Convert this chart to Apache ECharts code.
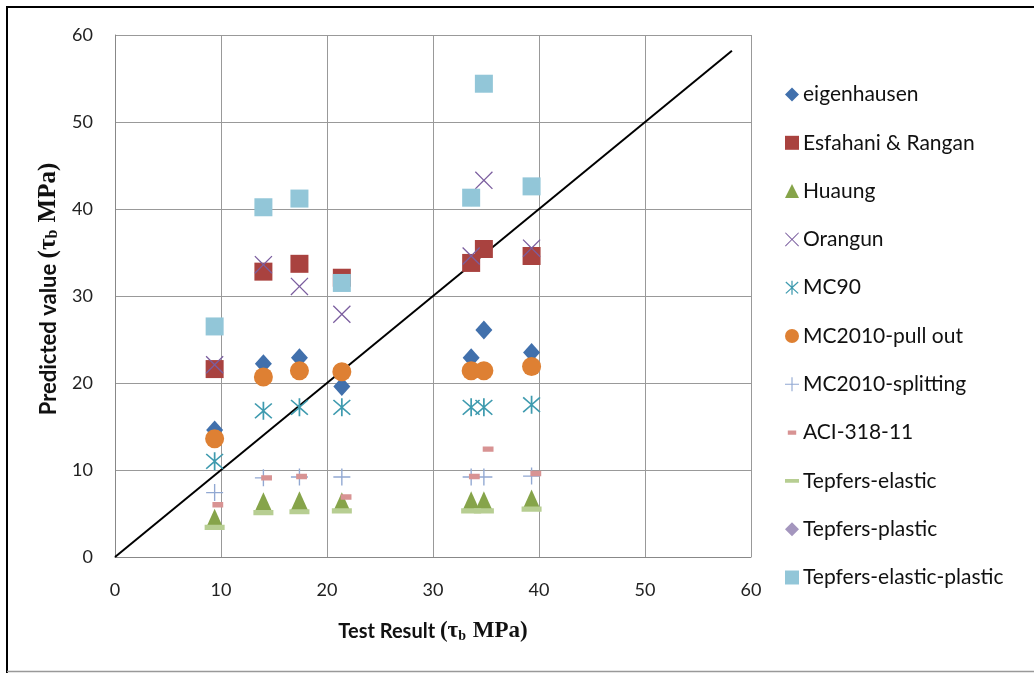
<!DOCTYPE html>
<html>
<head>
<meta charset="utf-8">
<script src="https://cdn.jsdelivr.net/npm/echarts@6/dist/echarts.min.js"></script>
<style>
  html, body { margin: 0; padding: 0; background: #fff; }
  #chart { width: 1034px; height: 673px; }
</style>
</head>
<body>
<div id="chart"></div>
<script>
// test results (x) shared by most models
const testResult = [9.4, 14.0, 17.4, 21.4, 33.6, 34.8, 39.3];
const aciX = [9.7, 14.3, 17.6, 21.8, 33.9, 35.2, 39.7];

const eigenhausen = [14.6, 22.2, 22.9, 19.6, 22.9, 26.1, 23.5];
const esfahani = [21.6, 32.8, 33.7, 32.1, 33.8, 35.4, 34.6];
const huaung = [4.4, 6.3, 6.4, 6.3, 6.4, 6.4, 6.6];
const orangun = [22.1, 33.6, 31.1, 27.9, 34.6, 43.3, 35.5];
const mc90 = [11.0, 16.8, 17.2, 17.2, 17.2, 17.2, 17.5];
const mc2010Pull = [13.6, 20.7, 21.4, 21.3, 21.4, 21.4, 21.9];
const mc2010Split = [7.4, 9.1, 9.2, 9.2, 9.2, 9.2, 9.3];
const aci = [6.0, 9.1, 9.25, 6.9, 9.25, 12.4, 9.6];
const tepfersElastic = [3.4, 5.1, 5.2, 5.3, 5.3, 5.3, 5.5];
const tepfersPlastic = [26.5, 40.2, 41.2, 31.5, 41.3, 54.4, 42.6];
const tepfersElPl = [26.5, 40.2, 41.2, 31.5, 41.3, 54.4, 42.6];

const equalityLine = [[0, 0], [58.2, 58.2]];

// marker shapes (tiny corner triangles keep the bounding box square)
const corners = 'M0,0l0.01,0l0,0.01z M10,10l-0.01,0l0,-0.01z ';
const xMark = 'path://M0,0.5L0.5,0L5,4.5L9.5,0L10,0.5L5.5,5L10,9.5L9.5,10L5,5.5L0.5,10L0,9.5L4.5,5Z';
const plusMark = 'path://M4.6,0H5.4V4.6H10V5.4H5.4V10H4.6V5.4H0V4.6H4.6Z';
const starMark = 'path://M4.55,0H5.45V10H4.55Z M0.3,1.2L0.9,0.6L5,4.4L9.1,0.6L9.7,1.2L5.6,5L9.7,8.8L9.1,9.4L5,5.6L0.9,9.4L0.3,8.8L4.4,5Z';
const shortDash = 'path://' + corners + 'M2,3.5H8V6.5H2Z';
const longDash = 'path://' + corners + 'M0,3.7H10V6.3H0Z';

const chart = echarts.init(document.getElementById('chart'));

function pts(xs, ys) {
  return ys.map((y, i) => [xs[i], y]);
}

function scatter(name, data, symbol, size, color) {
  return {
    name: name,
    type: 'scatter',
    data: data,
    symbol: symbol,
    symbolSize: size,
    itemStyle: { color: color, opacity: 1 },
    emphasis: { disabled: true }
  };
}

const labelFont = 'Lato, "Open Sans", sans-serif';
const serif = '"Liberation Serif", serif';

function titleRich(big) {
  return {
    a: { fontSize: big, fontWeight: 'bold', color: '#111', fontFamily: labelFont },
    t: { fontSize: big + 3, fontWeight: 'bold', color: '#111', fontFamily: serif },
    s: { fontSize: big - 6, fontWeight: 'bold', color: '#111', fontFamily: serif, padding: [9, 1, 0, 0] }
  };
}

const option = {
  animation: false,
  backgroundColor: '#fff',
  textStyle: { fontFamily: labelFont },
  grid: { left: 115, top: 35, width: 636, height: 522 },
  xAxis: {
    type: 'value',
    min: 0, max: 60, interval: 10,
    axisLine: { lineStyle: { color: '#888', width: 1 } },
    axisTick: { show: false },
    splitLine: { lineStyle: { color: '#999', width: 1 } },
    axisLabel: { color: '#222', fontSize: 18, margin: 24, fontFamily: labelFont },
    name: '{a|Test Result }{t|(τ}{s|b}{t| MPa)}',
    nameLocation: 'middle',
    nameGap: 63,
    nameTextStyle: { rich: titleRich(20) }
  },
  yAxis: {
    type: 'value',
    min: 0, max: 60, interval: 10,
    axisLine: { show: true, lineStyle: { color: '#888', width: 1 } },
    axisTick: { show: false },
    splitLine: { lineStyle: { color: '#999', width: 1 } },
    axisLabel: { color: '#222', fontSize: 18, margin: 22, fontFamily: labelFont },
    name: '{a|Predicted value }{t|(τ}{s|b}{t| MPa)}',
    nameLocation: 'middle',
    nameRotate: 90,
    nameGap: 52,
    nameTextStyle: { rich: titleRich(22), padding: [0, 0, 0, 14] }
  },
  legend: {
    orient: 'vertical',
    left: 780,
    top: 79,
    itemWidth: 14,
    itemHeight: 14,
    itemGap: 27.3,
    selectedMode: false,
    textStyle: { fontSize: 21, lineHeight: 20, color: '#111', fontFamily: labelFont, padding: [0, 0, 0, -1] },
    data: [
      'eigenhausen', 'Esfahani & Rangan', 'Huaung', 'Orangun', 'MC90',
      'MC2010-pull out', 'MC2010-splitting', 'ACI-318-11', 'Tepfers-elastic',
      'Tepfers-plastic', 'Tepfers-elastic-plastic'
    ]
  },
  graphic: [
    { type: 'line', shape: { x1: 6, y1: 7, x2: 1034, y2: 7 }, style: { stroke: '#000', lineWidth: 2 } },
    { type: 'line', shape: { x1: 7, y1: 6, x2: 7, y2: 673 }, style: { stroke: '#000', lineWidth: 2 } },
    { type: 'line', shape: { x1: 7, y1: 671.5, x2: 1034, y2: 671.5 }, style: { stroke: '#999', lineWidth: 1.5 } }
  ],
  series: [
    {
      name: 'line',
      type: 'line',
      data: equalityLine,
      symbol: 'none',
      lineStyle: { color: '#000', width: 2 },
      silent: true,
      z: 1
    },
    scatter('eigenhausen', pts(testResult, eigenhausen), 'diamond', [17, 19], '#4170AC'),
    scatter('Esfahani & Rangan', pts(testResult, esfahani), 'rect', 18, '#A9423F'),
    scatter('Huaung', pts(testResult, huaung), 'triangle', [18, 20], '#86A44A'),
    scatter('Orangun', pts(testResult, orangun), xMark, 18, '#7B5E9F'),
    scatter('MC90', pts(testResult, mc90), starMark, 18, '#3F9BAF'),
    scatter('MC2010-pull out', pts(testResult, mc2010Pull), 'circle', 19, '#DE8033'),
    scatter('MC2010-splitting', pts(testResult, mc2010Split), plusMark, 17, '#91A8D2'),
    scatter('ACI-318-11', pts(aciX, aci), shortDash, 18, '#D89393'),
    scatter('Tepfers-elastic', pts(testResult, tepfersElastic), longDash, 20, '#B7CE92'),
    scatter('Tepfers-plastic', pts(testResult, tepfersPlastic), 'diamond', [15, 17], '#A496BE'),
    scatter('Tepfers-elastic-plastic', pts(testResult, tepfersElPl), 'rect', 18, '#92C6D8')
  ]
};

chart.setOption(option);
</script>
</body>
</html>
